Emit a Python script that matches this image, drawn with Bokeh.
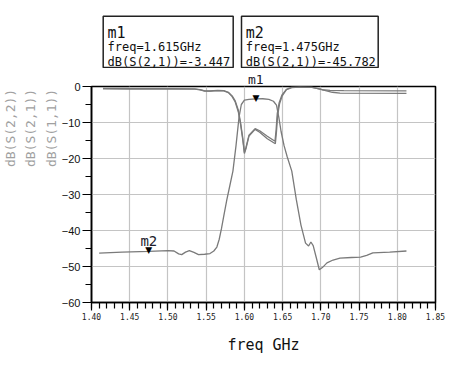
from bokeh.plotting import figure
from bokeh.layouts import column
from bokeh.models import Range1d, FixedTicker, Label, LinearAxis
from bokeh.core.properties import value
from bokeh.embed import file_html
from bokeh.resources import INLINE

# ---------------- data ----------------
s21_freq = [1.41, 1.44, 1.475, 1.50, 1.508, 1.514, 1.518, 1.523, 1.528, 1.534, 1.540, 1.548,
            1.555, 1.560, 1.564, 1.567, 1.570, 1.573, 1.577, 1.581, 1.585, 1.589, 1.593, 1.596,
            1.600, 1.606, 1.615, 1.624, 1.632, 1.638, 1.642, 1.645, 1.648, 1.652, 1.656, 1.662,
            1.668, 1.674, 1.680, 1.684, 1.687, 1.690, 1.694, 1.698, 1.702, 1.708, 1.716, 1.725,
            1.740, 1.752, 1.760, 1.768, 1.790, 1.812]
s21_db = [-46.3, -46.0, -45.78, -45.6, -45.7, -46.5, -46.7, -46.0, -45.6, -46.1, -46.7, -46.6,
          -46.4, -45.7, -44.6, -42.5, -39.5, -36.0, -31.5, -27.5, -23.5, -16.5, -8.5, -5.0,
          -3.8, -3.55, -3.447, -3.4, -3.6, -4.1, -5.2, -8.5, -12.5, -16.5, -19.5, -23.5,
          -31.5, -38.5, -43.5, -44.3, -43.2, -44.2, -47.5, -50.9, -50.3, -49.0, -48.2, -47.7,
          -47.5, -47.4, -46.9, -46.2, -46.0, -45.7]

s11_freq = [1.415, 1.45, 1.50, 1.535, 1.542, 1.548, 1.555, 1.565, 1.573, 1.579, 1.584, 1.588,
            1.592, 1.595, 1.598, 1.600, 1.602, 1.606, 1.614, 1.620, 1.630, 1.640, 1.6415, 1.643,
            1.6455, 1.649, 1.655, 1.662, 1.672, 1.688, 1.695, 1.702, 1.712, 1.730, 1.812]
s11_db = [-0.5, -0.55, -0.6, -0.65, -0.85, -1.2, -1.25, -1.1, -1.15, -1.6, -2.6, -4.0,
          -6.5, -10.0, -14.5, -18.3, -17.0, -13.5, -11.7, -12.3, -13.8, -15.2, -12.0, -7.5,
          -4.5, -2.4, -0.8, -0.2, -0.1, -0.2, -0.5, -0.9, -1.1, -1.15, -1.2]

s22_freq = [1.415, 1.45, 1.50, 1.535, 1.542, 1.548, 1.555, 1.565, 1.573, 1.579, 1.584, 1.588,
            1.592, 1.595, 1.598, 1.600, 1.602, 1.606, 1.614, 1.620, 1.630, 1.6405, 1.642, 1.6435,
            1.646, 1.6495, 1.655, 1.662, 1.672, 1.688, 1.696, 1.705, 1.715, 1.725, 1.812]
s22_db = [-0.65, -0.7, -0.7, -0.75, -0.95, -1.25, -1.3, -1.15, -1.2, -1.7, -2.8, -4.3,
          -7.0, -10.5, -15.0, -18.6, -17.3, -13.8, -11.9, -12.7, -14.5, -15.9, -12.5, -8.0,
          -4.8, -2.6, -0.9, -0.3, -0.15, -0.25, -0.6, -1.1, -1.6, -1.85, -1.9]

x_ticks = [1.40, 1.45, 1.50, 1.55, 1.60, 1.65, 1.70, 1.75, 1.80, 1.85]
x_tick_labels = ["1.40", "1.45", "1.50", "1.55", "1.60", "1.65", "1.70", "1.75", "1.80", "1.85"]
x_minor = [round(1.40 + 0.01 * i, 2) for i in range(46)]
y_ticks = [-60, -50, -40, -30, -20, -10, 0]
y_tick_labels = ["\u221260", "\u221250", "\u221240", "\u221230", "\u221220", "\u221210", "0"]
y_minor = [-55, -45, -35, -25, -15, -5]

y_axis_titles = ["dB(S(2,2))", "dB(S(2,1))", "dB(S(1,1))"]   # outer -> inner
x_axis_title = "freq GHz"

marker_names = ["m1", "m2"]
marker_freq = [1.615, 1.475]
marker_val = [-3.447, -45.782]
marker_trace = ["dB(S(2,1))", "dB(S(2,1))"]

# ---------------- layout constants ----------------
X0, X1, Y0, Y1 = 1.40, 1.85, -60, 0
FL, FW, FH = 90, 344, 216
TOP_H = 68
MAIN_TOP = 18
RB = 12
MONO = "DejaVu Sans Mono"
NBSP = "\u00a0"

xr = Range1d(X0, X1)


def dx(px):
    return X0 + (px - FL) * (X1 - X0) / FW


# ---------------- top strip: marker readouts ----------------
top = figure(frame_width=FW, frame_height=TOP_H, x_range=xr, y_range=Range1d(TOP_H, 0),
             output_backend="svg", toolbar_location=None, title_location=None,
             x_axis_type=None, y_axis_type=None,
             min_border_left=FL, min_border_right=RB, min_border_top=0, min_border_bottom=0)
top.outline_line_color = None
top.grid.visible = False

box_left_px = [101.7, 240.0]
box_right_px = [231.7, 376.7]
top.quad(left=[dx(v) for v in box_left_px], right=[dx(v) for v in box_right_px],
         top=[15.7, 15.7], bottom=[67.0, 67.0],
         fill_color="white", line_color="#222222", line_width=1.5)
tx = [dx(v + 4.3) for v in box_left_px]
top.text(x=tx, y=[32, 32], text=marker_names, text_font=value(MONO),
         text_font_size="15px", text_color="#111111", text_baseline="alphabetic")
top.text(x=tx, y=[46.7, 46.7], text=["freq=%.3fGHz" % f for f in marker_freq],
         text_font=value(MONO), text_font_size="12px", text_color="#111111",
         text_baseline="alphabetic")
top.text(x=tx, y=[61, 61], text=["%s=%.3f" % (t, v) for t, v in zip(marker_trace, marker_val)],
         text_font=value(MONO), text_font_size="12px", text_color="#111111",
         text_baseline="alphabetic")

# ---------------- main plot ----------------
p = figure(frame_width=FW, frame_height=FH, output_backend="svg", toolbar_location=None,
           title_location=None, x_range=xr, y_range=Range1d(Y0, Y1),
           min_border_left=FL, min_border_top=MAIN_TOP, min_border_right=RB, min_border_bottom=55)
p.background_fill_color = "white"
p.border_fill_color = "white"
p.outline_line_color = "black"
p.outline_line_width = 1.6

grey = "#7a7a7a"
p.line(s11_freq, s11_db, line_color=grey, line_width=1.3)
p.line(s22_freq, s22_db, line_color=grey, line_width=1.3)
p.line(s21_freq, s21_db, line_color=grey, line_width=1.3)

xa = p.xaxis[0]
xa.ticker = FixedTicker(ticks=x_ticks, minor_ticks=x_minor)
xa.major_label_overrides = {t: l for t, l in zip(x_ticks, x_tick_labels)}
xa.major_label_text_font = MONO
xa.major_label_text_font_size = "8px"
xa.major_label_text_color = "#222222"
xa.major_label_standoff = 2
xa.major_tick_out = 8
xa.major_tick_in = 0
xa.minor_tick_out = 6
xa.minor_tick_in = 0
xa.axis_label = x_axis_title
xa.axis_label_text_font = MONO
xa.axis_label_text_font_size = "15px"
xa.axis_label_text_font_style = "normal"
xa.axis_label_text_color = "#111111"
xa.axis_label_standoff = 13

ya = p.yaxis[0]
ya.ticker = FixedTicker(ticks=y_ticks, minor_ticks=y_minor)
ya.major_label_overrides = {t: l for t, l in zip(y_ticks, y_tick_labels)}
ya.major_label_text_font = "Liberation Sans"
ya.major_label_text_font_size = "11px"
ya.major_label_text_color = "#111111"
ya.major_label_standoff = 2
ya.major_tick_out = 9
ya.major_tick_in = 0
ya.minor_tick_out = 6
ya.minor_tick_in = 0

for ax in (xa, ya):
    ax.axis_line_color = "black"
    ax.axis_line_width = 1.5
    ax.major_tick_line_color = "black"
    ax.major_tick_line_width = 1.2
    ax.minor_tick_line_color = "black"
    ax.minor_tick_line_width = 1.2

p.xgrid.grid_line_color = "#c4c4c4"
p.ygrid.grid_line_color = "#c4c4c4"
p.xgrid.grid_line_width = 1.2
p.ygrid.grid_line_width = 1.2

# stacked y-axis titles (one line per trace); leading no-break spaces lift the
# centred text up against the top of the axis, as in the original
pad = NBSP * 17
ya.axis_label = "\n".join(pad + t for t in y_axis_titles)
ya.axis_label_text_font = MONO
ya.axis_label_text_font_size = "13px"
ya.axis_label_text_font_style = "normal"
ya.axis_label_text_color = "#a0a0a0"
ya.axis_label_text_line_height = 1.36
ya.axis_label_standoff = 0

# name of marker m1, which sits just above the frame: an unlined top axis
# with a single tick at the marker frequency
m_axis = LinearAxis(ticker=FixedTicker(ticks=[marker_freq[0]], minor_ticks=[]),
                    major_label_overrides={marker_freq[0]: marker_names[0]},
                    axis_line_color=None, major_tick_line_color=None,
                    minor_tick_line_color=None, major_tick_out=0, major_tick_in=0,
                    minor_tick_out=0, minor_tick_in=0, major_label_standoff=0,
                    major_label_text_font=MONO, major_label_text_font_size="13px",
                    major_label_text_color="#1c1c2c")
p.add_layout(m_axis, "above")

# marker triangles and the in-frame marker name
for i, (f, v) in enumerate(zip(marker_freq, marker_val)):
    p.add_layout(Label(x=f, y=v, text="\u25bc", text_align="center",
                       text_baseline="alphabetic", y_offset=1,
                       text_font="DejaVu Sans", text_font_size="9px", text_color="black"))
    if i > 0:
        p.add_layout(Label(x=f, y=v, text=marker_names[i], text_align="center",
                           text_baseline="alphabetic", y_offset=10.5,
                           text_font=MONO, text_font_size="14px", text_color="#1c1c2c"))

layout = column(top, p, spacing=0)
open("out.html", "w").write(file_html(layout, INLINE))
